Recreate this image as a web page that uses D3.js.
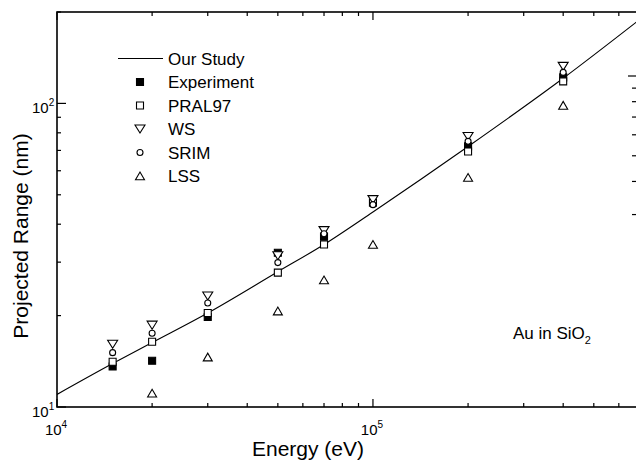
<!DOCTYPE html>
<html>
<head>
<meta charset="utf-8">
<script src="https://cdn.jsdelivr.net/npm/d3@7/dist/d3.min.js"></script>
<style>
    body { margin: 0; background: #fff; }
    svg text { font-family: Arial, "Liberation Sans", sans-serif; fill: #000; }
</style>
</head>
<body>
<svg class="main" width="636" height="463"></svg>
<script>
'use strict';

// ion energy (eV) for the symbols
var energies   = [15e3, 20e3, 30e3, 50e3, 70e3, 100e3, 200e3, 400e3];
// projected range (nm), null = no point
var experiment = [13.6, 14.2, 19.8, 32.2, 36.4, null, 72.2, 121.8];
var pral97     = [14.1, 16.4, 20.4, 27.7, 34.3, 47.1, 69.4, 118.2];
var ws         = [16.1, 18.6, 23.2, 31.5, 38.1, 48.2, 77.8, 132.4];
var srim       = [15.1, 17.5, 22.0, 29.9, 37.2, 46.4, 75.0, 126.5];
var lss        = [null, 11.1, 14.6, 20.7, 26.2, 34.3, 57.0, 98.5];

// "Our Study" curve
var studyEnergy = [1e4, 1.5e4, 2e4, 3e4, 5e4, 7e4, 1e5, 2e5, 4e5, 6.85e5];
var studyRange  = [11.0, 13.9, 16.3, 20.4, 27.9, 34.3, 43.9, 72.1, 121, 186];

var seriesNames = ['Experiment', 'PRAL97', 'WS', 'SRIM', 'LSS'];
var seriesTypes = ['filledSquare', 'square', 'triangleDown', 'circle', 'triangleUp'];
var seriesValues = [experiment, pral97, ws, srim, lss];

var xDomain = [1e4, 6.85e5];
var yDomain = [10, 200];

(function () {
    var plotLeft = 57, plotRight = 637, plotTop = 12, plotBottom = 407;

    var x = d3.scaleLog().domain(xDomain).range([plotLeft, plotRight]);
    var y = d3.scaleLog().domain(yDomain).range([plotBottom, plotTop]);
    // the right-hand ticks of the scanned figure sit higher than the left ones
    var yRight = d3.scaleLog().domain(yDomain).range([76 + 265, 76 - 265 * Math.log10(2)]);

    var svg = d3.select('svg.main');

    var markerPath = function (type) {
        if (type === 'filledSquare' || type === 'square') {
            return 'M-3.5,-3.5h7v7h-7z';
        }
        if (type === 'triangleDown') {
            return 'M-5,-4L5,-4L0,4Z';
        }
        if (type === 'triangleUp') {
            return 'M-4.5,3.8L4.5,3.8L0,-4Z';
        }
        return 'M-3,0a3,3 0 1,0 6,0a3,3 0 1,0 -6,0Z';
    };

    var isMajor = function (v) {
        var l = Math.log10(v);
        return Math.abs(l - Math.round(l)) < 1e-9;
    };

    svg.append('defs')
        .append('clipPath')
        .attr('id', 'plotClip')
        .append('rect')
        .attr('x', plotLeft)
        .attr('y', plotTop)
        .attr('width', plotRight - plotLeft)
        .attr('height', plotBottom - plotTop);

    // frame
    svg.append('rect')
        .attr('x', plotLeft)
        .attr('y', plotTop)
        .attr('width', plotRight - plotLeft)
        .attr('height', plotBottom - plotTop)
        .attr('fill', 'none')
        .attr('stroke', '#000')
        .attr('stroke-width', 1.6);

    // ticks, all pointing inward
    var ticks = svg.append('g').attr('stroke', '#000').attr('stroke-width', 1.2);

    ticks.selectAll('.tb')
        .data(x.ticks())
        .enter()
        .append('line')
        .attr('x1', function (d) { return x(d); })
        .attr('x2', function (d) { return x(d); })
        .attr('y1', plotBottom)
        .attr('y2', function (d) { return plotBottom - (isMajor(d) ? 8 : 4); });

    ticks.selectAll('.tt')
        .data(x.ticks())
        .enter()
        .append('line')
        .attr('x1', function (d) { return x(d); })
        .attr('x2', function (d) { return x(d); })
        .attr('y1', plotTop)
        .attr('y2', function (d) { return plotTop + (isMajor(d) ? 8 : 4); });

    ticks.selectAll('.tl')
        .data(y.ticks())
        .enter()
        .append('line')
        .attr('x1', plotLeft)
        .attr('x2', function (d) { return plotLeft + (isMajor(d) ? 9 : 4); })
        .attr('y1', function (d) { return y(d); })
        .attr('y2', function (d) { return y(d); });

    ticks.selectAll('.tr')
        .data(yRight.ticks().filter(function (d) { return d >= 30 && d <= 100; }))
        .enter()
        .append('line')
        .attr('x1', plotRight)
        .attr('x2', function (d) { return plotRight - (isMajor(d) ? 9 : 5); })
        .attr('y1', function (d) { return yRight(d); })
        .attr('y2', function (d) { return yRight(d); });

    // tick labels 10^n
    var powLabel = function (g, base, exp) {
        g.append('tspan').text(base);
        g.append('tspan')
            .attr('dy', -7)
            .attr('font-size', '10px')
            .text(exp);
    };

    svg.selectAll('.xl')
        .data(x.ticks().filter(isMajor))
        .enter()
        .append('text')
        .attr('x', function (d) { return x(d) - 1; })
        .attr('y', 435)
        .attr('text-anchor', 'middle')
        .attr('font-size', '15px')
        .each(function (d) {
            powLabel(d3.select(this), '10', Math.round(Math.log10(d)));
        });

    svg.selectAll('.yl')
        .data(y.ticks().filter(isMajor))
        .enter()
        .append('text')
        .attr('x', 32)
        .attr('y', function (d) { return y(d) + 10; })
        .attr('font-size', '15px')
        .each(function (d) {
            powLabel(d3.select(this), '10', Math.round(Math.log10(d)));
        });

    // axis titles
    svg.append('text')
        .attr('x', 308)
        .attr('y', 456)
        .attr('text-anchor', 'middle')
        .attr('font-size', '21px')
        .text('Energy (eV)');

    svg.append('text')
        .attr('transform', 'translate(28,236) rotate(-90)')
        .attr('text-anchor', 'middle')
        .attr('font-size', '21px')
        .text('Projected Range (nm)');

    // curve
    var line = d3.line()
        .x(function (d) { return x(d[0]); })
        .y(function (d) { return y(d[1]); })
        .curve(d3.curveMonotoneX);

    svg.append('path')
        .datum(studyEnergy.map(function (e, i) { return [e, studyRange[i]]; }))
        .attr('clip-path', 'url(#plotClip)')
        .attr('d', line)
        .attr('fill', 'none')
        .attr('stroke', '#000')
        .attr('stroke-width', 1.1);

    // symbols
    seriesNames.forEach(function (name, s) {
        var pts = [];
        energies.forEach(function (e, k) {
            if (seriesValues[s][k] !== null) {
                pts.push([e, seriesValues[s][k]]);
            }
        });
        svg.append('g')
            .selectAll('path')
            .data(pts)
            .enter()
            .append('path')
            .attr('d', markerPath(seriesTypes[s]))
            .attr('transform', function (d) {
                return 'translate(' + x(d[0]) + ',' + y(d[1]) + ')';
            })
            .attr('fill', seriesTypes[s] === 'filledSquare' ? '#000' : '#fff')
            .attr('stroke', '#000')
            .attr('stroke-width', 1.1);
    });

    // legend
    var legendX = 140, legendY = 58.5, rowStep = 23.5, textX = 168;
    var legend = svg.append('g').attr('class', 'legend');

    legend.append('line')
        .attr('x1', 118)
        .attr('x2', 163)
        .attr('y1', legendY)
        .attr('y2', legendY)
        .attr('stroke', '#000')
        .attr('stroke-width', 1.1);

    legend.append('text')
        .attr('x', textX)
        .attr('y', legendY + 6)
        .attr('font-size', '17px')
        .text('Our Study');

    seriesNames.forEach(function (name, j) {
        var ly = legendY + rowStep * (j + 1);
        legend.append('path')
            .attr('d', markerPath(seriesTypes[j]))
            .attr('transform', 'translate(' + legendX + ',' + ly + ')')
            .attr('fill', seriesTypes[j] === 'filledSquare' ? '#000' : '#fff')
            .attr('stroke', '#000')
            .attr('stroke-width', 1.1);
        legend.append('text')
            .attr('x', textX)
            .attr('y', ly + 6)
            .attr('font-size', '17px')
            .text(name);
    });

    // annotation
    var note = svg.append('text')
        .attr('x', 513)
        .attr('y', 339)
        .attr('font-size', '17px');
    note.append('tspan').text('Au in SiO');
    note.append('tspan')
        .attr('dy', 5)
        .attr('font-size', '11px')
        .text('2');
})();
</script>
</body>
</html>
